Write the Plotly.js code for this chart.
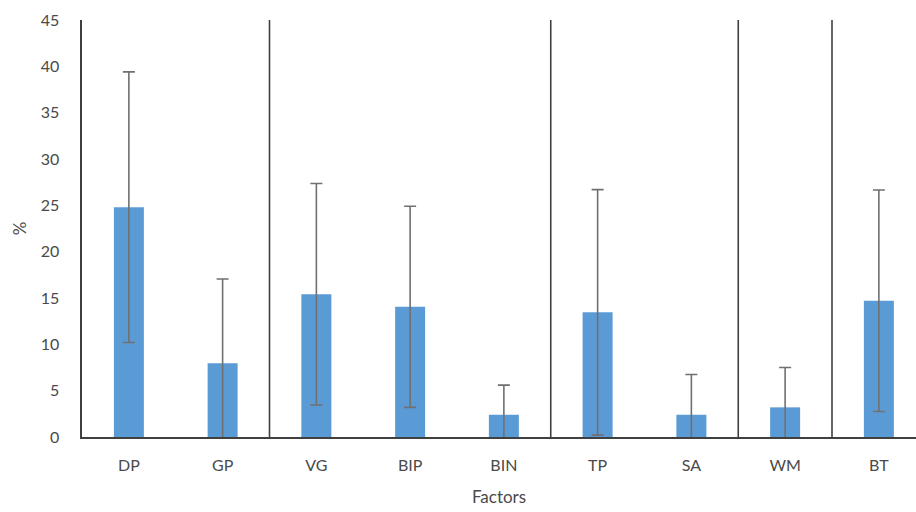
<!DOCTYPE html>
<html>
<head>
<meta charset="utf-8">
<script src="https://cdn.plot.ly/plotly-3.0.1.min.js"></script>
<style>html,body{margin:0;padding:0;background:#fff;}#chart{width:916px;height:512px;}</style>
</head>
<body>
<div id="chart"></div>
<script>
const categories = ["DP", "GP", "VG", "BIP", "BIN", "TP", "SA", "WM", "BT"];
const meanValues = [24.8, 7.95, 15.4, 14.05, 2.4, 13.45, 2.4, 3.2, 14.7];
const errorValues = [14.6, 9.1, 11.95, 10.85, 3.2, 13.25, 4.35, 4.3, 11.95];
const groupSeparators = [1.5, 4.5, 6.5, 7.5];
const yTicks = [0, 5, 10, 15, 20, 25, 30, 35, 40, 45];

const fontFam = "Lato, 'Open Sans', sans-serif";
const txtColor = "#4a4a4a";
const trace = {
  type: "bar",
  x: categories,
  y: meanValues,
  marker: {color: "#5B9BD5"},
  error_y: {type: "data", array: errorValues, visible: true, color: "#707070", thickness: 1.6, width: 6},
  hoverinfo: "x+y"
};

const shapes = groupSeparators.map(v => ({
  type: "line", xref: "x", yref: "paper", x0: v, x1: v, y0: 0, y1: 1,
  line: {color: "#404040", width: 1.6}, layer: "above"
}));

const layout = {
  width: 916, height: 512,
  margin: {l: 82, r: 0, t: 20, b: 75},
  paper_bgcolor: "#fff", plot_bgcolor: "#fff",
  showlegend: false,
  bargap: 0.68,
  font: {family: fontFam, color: txtColor, size: 16},
  xaxis: {
    type: "category",
    range: [-0.5, 8.396],
    showgrid: false, zeroline: false,
    showline: true, linecolor: "#404040", linewidth: 1.6,
    ticks: "", ticklabelstandoff: 13,
    tickfont: {family: fontFam, size: 16, color: txtColor},
    title: {text: "Factors", font: {family: fontFam, size: 17, color: txtColor}, standoff: 18}
  },
  yaxis: {
    range: [0, 45],
    tickvals: yTicks,
    showgrid: false, zeroline: false,
    showline: true, linecolor: "#404040", linewidth: 1.6,
    ticks: "", ticklabelstandoff: 18,
    tickfont: {family: fontFam, size: 16, color: txtColor},
    title: {text: "%", font: {family: fontFam, size: 17, color: txtColor}, standoff: 9}
  },
  shapes: shapes
};

Plotly.newPlot("chart", [trace], layout, {staticPlot: true, displayModeBar: false});
</script>
</body>
</html>
